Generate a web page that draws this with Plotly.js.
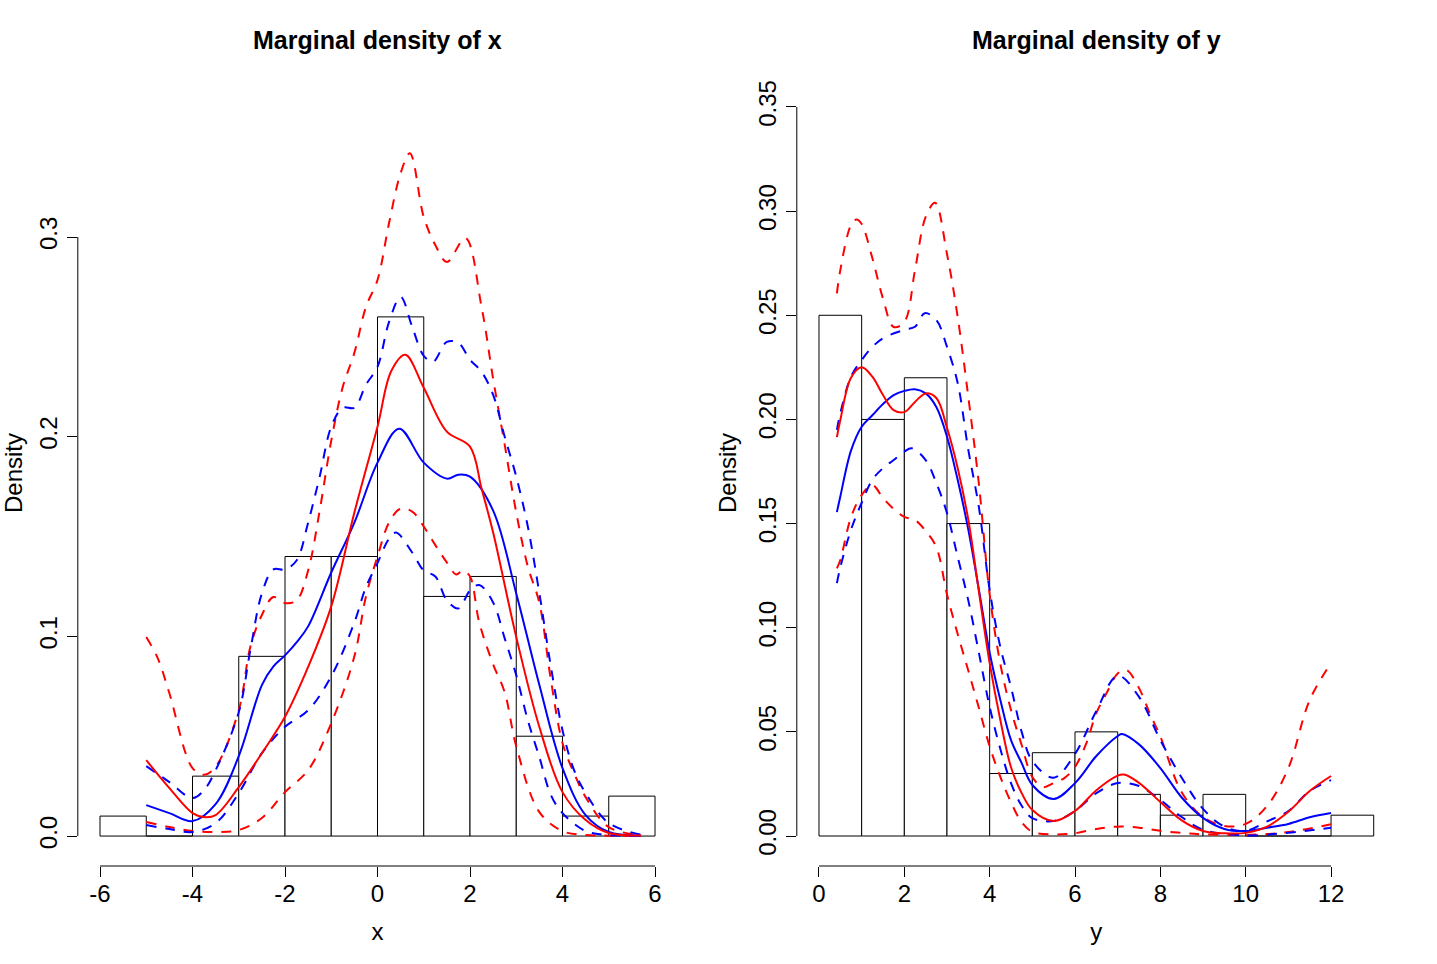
<!DOCTYPE html>
<html>
<head>
<meta charset="utf-8">
<script src="https://cdn.plot.ly/plotly-3.0.1.min.js"></script>
<style>html,body{margin:0;padding:0;background:#fff;}#chart{width:1437px;height:964px;}</style>
</head>
<body>
<div id="chart"></div>
<script>
// ---------- Data: marginal density of x ----------
var xBreaks = [-6,-5,-4,-3,-2,-1,0,1,2,3,4,5,6];
var xHist = [0.01,0,0.03,0.09,0.14,0.14,0.26,0.12,0.13,0.05,0.01,0.02];

var xRedSolidX = [-5,-4.5,-4,-3.75,-3.5,-3,-2.5,-2,-1.5,-1,-0.5,0,0.3,0.6,1,1.5,2,2.25,2.5,3,3.5,4,4.5,5,5.7];
var xRedSolidY = [0.038,0.024,0.0115,0.0095,0.0105,0.0245,0.0415,0.0597,0.0847,0.115,0.162,0.205,0.233,0.241,0.2245,0.2025,0.195,0.174,0.152,0.0997,0.0546,0.022,0.008,0.0015,0.0003];

var xBlueSolidX = [-5,-4.5,-4,-3.5,-3,-2.5,-2.25,-2,-1.75,-1.5,-1,-0.5,0,0.47,1,1.5,1.75,2,2.5,3,3.5,4,4.5,5,5.7];
var xBlueSolidY = [0.0155,0.0115,0.0075,0.016,0.04,0.0756,0.085,0.0905,0.097,0.105,0.132,0.157,0.187,0.204,0.187,0.179,0.181,0.18,0.163,0.1215,0.0756,0.034,0.0105,0.002,0.0003];

var xRedUpX = [-5,-4.75,-4.5,-4,-3.75,-3.5,-3,-2.75,-2.5,-2.25,-2,-1.75,-1.5,-1.25,-1,-0.75,-0.5,-0.25,0,0.25,0.5,0.7,1,1.25,1.5,1.9,2.25,2.5,2.75,3,3.25,3.5,3.75,4,4.25,4.5,5,5.7];
var xRedUpY = [0.0997,0.089,0.0715,0.034,0.0307,0.0347,0.063,0.0947,0.1107,0.1197,0.1167,0.118,0.133,0.163,0.198,0.225,0.242,0.265,0.2785,0.307,0.332,0.342,0.31,0.296,0.2875,0.2995,0.265,0.229,0.196,0.162,0.135,0.1167,0.078,0.0466,0.0315,0.0195,0.0045,0.0005];

var xRedLoX = [-5,-4.5,-4,-3.5,-3,-2.5,-2,-1.5,-1,-0.5,-0.25,0,0.25,0.5,0.75,1,1.25,1.5,1.7,1.85,2,2.2,2.5,2.75,3,3.5,4,4.5,5,5.7];
var xRedLoY = [0.007,0.0045,0.0025,0.002,0.003,0.009,0.022,0.033,0.0565,0.09,0.12,0.14,0.157,0.164,0.1625,0.155,0.1457,0.137,0.131,0.133,0.13,0.107,0.086,0.072,0.045,0.012,0.0025,0.0005,0.0002,0.0001];

var xBlueUpX = [-5,-4.5,-4,-3.75,-3.5,-3,-2.75,-2.5,-2.25,-2,-1.75,-1.5,-1.25,-1,-0.75,-0.5,-0.25,0,0.25,0.5,0.75,1,1.2,1.5,1.75,2,2.25,2.5,2.75,3,3.25,3.5,3.75,4,4.25,4.5,5,5.7];
var xBlueUpY = [0.035,0.027,0.019,0.023,0.033,0.062,0.093,0.1215,0.1336,0.1335,0.138,0.157,0.18,0.205,0.2145,0.2145,0.226,0.235,0.2575,0.27,0.255,0.2405,0.2375,0.2475,0.247,0.2385,0.2325,0.221,0.2,0.18,0.155,0.1215,0.0847,0.053,0.033,0.0215,0.0065,0.0007];

var xBlueLoX = [-5,-4.5,-4,-3.5,-3,-2.5,-2,-1.5,-1,-0.5,-0.25,0,0.25,0.4,0.75,1,1.25,1.5,1.75,2,2.2,2.5,2.75,3,3.25,3.5,3.75,4,4.5,5,5.7];
var xBlueLoY = [0.0055,0.0035,0.002,0.0065,0.0215,0.0415,0.0547,0.063,0.08,0.107,0.1247,0.1367,0.149,0.152,0.142,0.133,0.13,0.118,0.114,0.123,0.1257,0.117,0.099,0.0806,0.058,0.0395,0.0205,0.0115,0.0025,0.0005,0.0002];

// ---------- Data: marginal density of y ----------
var yBreaks = [0,1,2,3,4,5,6,7,8,9,10,11,12,13];
var yHist = [0.25,0.20,0.22,0.15,0.03,0.04,0.05,0.02,0.01,0.02,0,0,0.01];

var yRedSolidX = [0.42,0.5,0.75,1,1.25,1.5,1.75,2,2.25,2.5,2.75,3,3.25,3.5,3.75,4,4.25,4.5,4.75,5,5.5,6,6.5,7,7.15,7.5,8,8.5,9,9.5,10,10.5,11,11.5,12];
var yRedSolidY = [0.1915,0.1997,0.22,0.225,0.2205,0.2117,0.2045,0.2035,0.2084,0.2125,0.2103,0.196,0.1767,0.1517,0.117,0.083,0.0557,0.033,0.0206,0.0125,0.0072,0.012,0.022,0.029,0.0295,0.0255,0.0163,0.0075,0.0024,0.0013,0.0015,0.0045,0.0116,0.0216,0.0288];

var yBlueSolidX = [0.42,0.5,0.75,1,1.25,1.5,1.75,2,2.25,2.5,2.75,3,3.25,3.5,3.75,4,4.25,4.5,4.75,5,5.5,6,6.5,7,7.1,7.5,8,8.5,9,9.5,10,10.5,11,11.5,12];
var yBlueSolidY = [0.1555,0.163,0.185,0.1965,0.202,0.2074,0.2117,0.2137,0.2145,0.2125,0.206,0.1917,0.171,0.147,0.118,0.088,0.0653,0.046,0.035,0.0245,0.0178,0.0254,0.0384,0.048,0.049,0.044,0.0326,0.0185,0.0087,0.0034,0.0024,0.004,0.0058,0.009,0.011];

var yRedUpX = [0.42,0.5,0.75,0.88,1,1.25,1.5,1.75,2,2.25,2.5,2.72,3,3.25,3.5,3.75,4,4.25,4.5,4.75,5,5.25,5.5,5.75,6,6.25,6.5,6.75,7,7.2,7.5,7.75,8,8.5,9,9.5,10,10.5,11,11.5,12];
var yRedUpY = [0.2605,0.2717,0.2933,0.296,0.2938,0.2775,0.258,0.2444,0.2468,0.2717,0.2972,0.304,0.2794,0.2492,0.2107,0.1685,0.116,0.0826,0.0605,0.0437,0.0283,0.0235,0.0254,0.0278,0.0332,0.0437,0.059,0.069,0.078,0.0797,0.071,0.059,0.0477,0.021,0.0091,0.0048,0.0058,0.0144,0.0326,0.0653,0.083];

var yRedLoX = [0.42,0.5,0.75,1,1.25,1.5,1.75,2,2.25,2.5,2.75,3,3.25,3.5,3.75,4,4.25,4.5,4.75,5,5.5,6,6.5,7,7.5,8,8.5,9,10,11,12];
var yRedLoY = [0.1285,0.1325,0.153,0.1637,0.1685,0.1623,0.157,0.1532,0.1517,0.1464,0.1387,0.116,0.097,0.0793,0.0613,0.043,0.0284,0.0162,0.0066,0.002,0.0008,0.0013,0.0034,0.0045,0.004,0.0025,0.0015,0.0008,0.0005,0.0019,0.0056];

var yBlueUpX = [0.42,0.5,0.75,1,1.25,1.5,2,2.25,2.48,2.75,3,3.25,3.5,3.75,4,4.25,4.5,4.75,5,5.5,6,6.5,7,7.5,8,8.5,9,9.5,10,10.5,11,11.5,12];
var yBlueUpY = [0.195,0.203,0.2205,0.2285,0.2348,0.239,0.243,0.2445,0.251,0.2477,0.2348,0.2175,0.1853,0.1575,0.118,0.0907,0.0715,0.05,0.036,0.028,0.0394,0.06,0.077,0.0668,0.046,0.028,0.013,0.0045,0.0025,0.007,0.012,0.0216,0.0268];

var yBlueLoX = [0.42,0.5,0.75,1,1.25,1.5,1.75,2,2.17,2.5,2.75,3,3.25,3.5,3.75,4,4.25,4.5,4.75,5,5.5,6,6.5,7,7.5,8,8.5,9,10,11,12];
var yBlueLoY = [0.1214,0.129,0.147,0.16,0.171,0.1766,0.1805,0.1845,0.1862,0.1805,0.1695,0.155,0.134,0.113,0.0877,0.062,0.0418,0.0254,0.0145,0.0086,0.0072,0.012,0.0206,0.0254,0.024,0.0173,0.0091,0.003,0.0003,0.0016,0.004];

// tick labels
var xTickVals = [-6,-4,-2,0,2,4,6];
var xTickText = ['-6','-4','-2','0','2','4','6'];
var xYTickVals = [0,0.1,0.2,0.3];
var xYTickText = ['0.0','0.1','0.2','0.3'];
var yTickVals = [0,2,4,6,8,10,12];
var yTickText = ['0','2','4','6','8','10','12'];
var yYTickVals = [0,0.05,0.1,0.15,0.2,0.25,0.3,0.35];
var yYTickText = ['0.00','0.05','0.10','0.15','0.20','0.25','0.30','0.35'];

// ---------- Build ----------
var FONT = 'Liberation Sans, Arial, Helvetica, sans-serif';
var W = 1437, H = 964;
var domX1 = [77.8/W, 677.2/W];
var domX2 = [796.8/W, 1395.9/W];
var domY = [1-866/H, 1-80/H];

function mids(b){var m=[];for(var i=0;i<b.length-1;i++)m.push((b[i]+b[i+1])/2);return m;}
function widths(b){var w=[];for(var i=0;i<b.length-1;i++)w.push(b[i+1]-b[i]);return w;}

function hist(breaks, h, xa, ya){
  return {type:'bar', x:mids(breaks), y:h, width:widths(breaks), xaxis:xa, yaxis:ya,
    marker:{color:'white', line:{color:'black', width:1}}, hoverinfo:'skip'};
}
function curve(x, y, color, dash, xa, ya){
  return {type:'scatter', mode:'lines', x:x, y:y, xaxis:xa, yaxis:ya,
    line:{color:color, width:2, dash:dash ? '10px,9px' : 'solid', shape:'spline', smoothing:1}, hoverinfo:'skip'};
}

var data = [
  hist(xBreaks, xHist, 'x', 'y'),
  curve(xRedUpX, xRedUpY, '#FF0000', true, 'x', 'y'),
  curve(xRedLoX, xRedLoY, '#FF0000', true, 'x', 'y'),
  curve(xBlueUpX, xBlueUpY, '#0000FF', true, 'x', 'y'),
  curve(xBlueLoX, xBlueLoY, '#0000FF', true, 'x', 'y'),
  curve(xBlueSolidX, xBlueSolidY, '#0000FF', false, 'x', 'y'),
  curve(xRedSolidX, xRedSolidY, '#FF0000', false, 'x', 'y'),
  hist(yBreaks, yHist, 'x2', 'y2'),
  curve(yRedUpX, yRedUpY, '#FF0000', true, 'x2', 'y2'),
  curve(yRedLoX, yRedLoY, '#FF0000', true, 'x2', 'y2'),
  curve(yBlueUpX, yBlueUpY, '#0000FF', true, 'x2', 'y2'),
  curve(yBlueLoX, yBlueLoY, '#0000FF', true, 'x2', 'y2'),
  curve(yBlueSolidX, yBlueSolidY, '#0000FF', false, 'x2', 'y2'),
  curve(yRedSolidX, yRedSolidY, '#FF0000', false, 'x2', 'y2')
];

function xAxis(dom, range, tv, tt, title, anchor){
  return {domain:dom, range:range, anchor:anchor, tickvals:tv, ticktext:tt,
    ticks:'outside', ticklen:10, tickwidth:1, tickcolor:'black', ticklabelstandoff:-4,
    showline:false, showgrid:false, zeroline:false, fixedrange:true,
    tickfont:{family:FONT, size:24, color:'black'},
    title:{text:title, font:{family:FONT, size:24, color:'black'}, standoff:17}};
}
function yAxis(range, tv, tt, anchor, standoff){
  return {domain:domY, range:range, anchor:anchor, tickvals:tv, ticktext:tt,
    ticks:'outside', ticklen:10, tickwidth:1, tickcolor:'black', tickangle:-90,
    showline:false, showgrid:false, zeroline:false, fixedrange:true,
    tickfont:{family:FONT, size:24, color:'black'},
    title:{text:'Density', font:{family:FONT, size:24, color:'black'}, standoff:standoff}};
}

var layout = {
  width:W, height:H, margin:{l:0,r:0,t:0,b:0,pad:0},
  paper_bgcolor:'white', plot_bgcolor:'white', showlegend:false, bargap:0,
  xaxis: xAxis(domX1, [-6.48, 6.48], xTickVals, xTickText, 'x', 'y'),
  yaxis: yAxis([-0.015, 0.37863], xYTickVals, xYTickText, 'x', 18),
  xaxis2: xAxis(domX2, [-0.52, 13.52], yTickVals, yTickText, 'y', 'y2'),
  yaxis2: yAxis([-0.0144, 0.36296], yYTickVals, yYTickText, 'x2', 10),
  shapes: [
    {type:'line', xref:'x', yref:'paper', x0:xTickVals[0], x1:xTickVals[xTickVals.length-1], y0:domY[0], y1:domY[0], line:{color:'black', width:1}},
    {type:'line', xref:'paper', yref:'y', x0:domX1[0], x1:domX1[0], y0:xYTickVals[0], y1:xYTickVals[xYTickVals.length-1], line:{color:'black', width:1}},
    {type:'line', xref:'x2', yref:'paper', x0:yTickVals[0], x1:yTickVals[yTickVals.length-1], y0:domY[0], y1:domY[0], line:{color:'black', width:1}},
    {type:'line', xref:'paper', yref:'y2', x0:domX2[0], x1:domX2[0], y0:yYTickVals[0], y1:yYTickVals[yYTickVals.length-1], line:{color:'black', width:1}}
  ],
  annotations: [
    {text:'<b>Marginal density of x</b>', xref:'paper', yref:'paper', x:(domX1[0]+domX1[1])/2, y:1-40/H, xanchor:'center', yanchor:'middle', showarrow:false, font:{family:FONT, size:25, color:'black'}},
    {text:'<b>Marginal density of y</b>', xref:'paper', yref:'paper', x:(domX2[0]+domX2[1])/2, y:1-40/H, xanchor:'center', yanchor:'middle', showarrow:false, font:{family:FONT, size:25, color:'black'}}
  ]
};

Plotly.newPlot('chart', data, layout, {staticPlot:true, displayModeBar:false});
</script>
</body>
</html>
